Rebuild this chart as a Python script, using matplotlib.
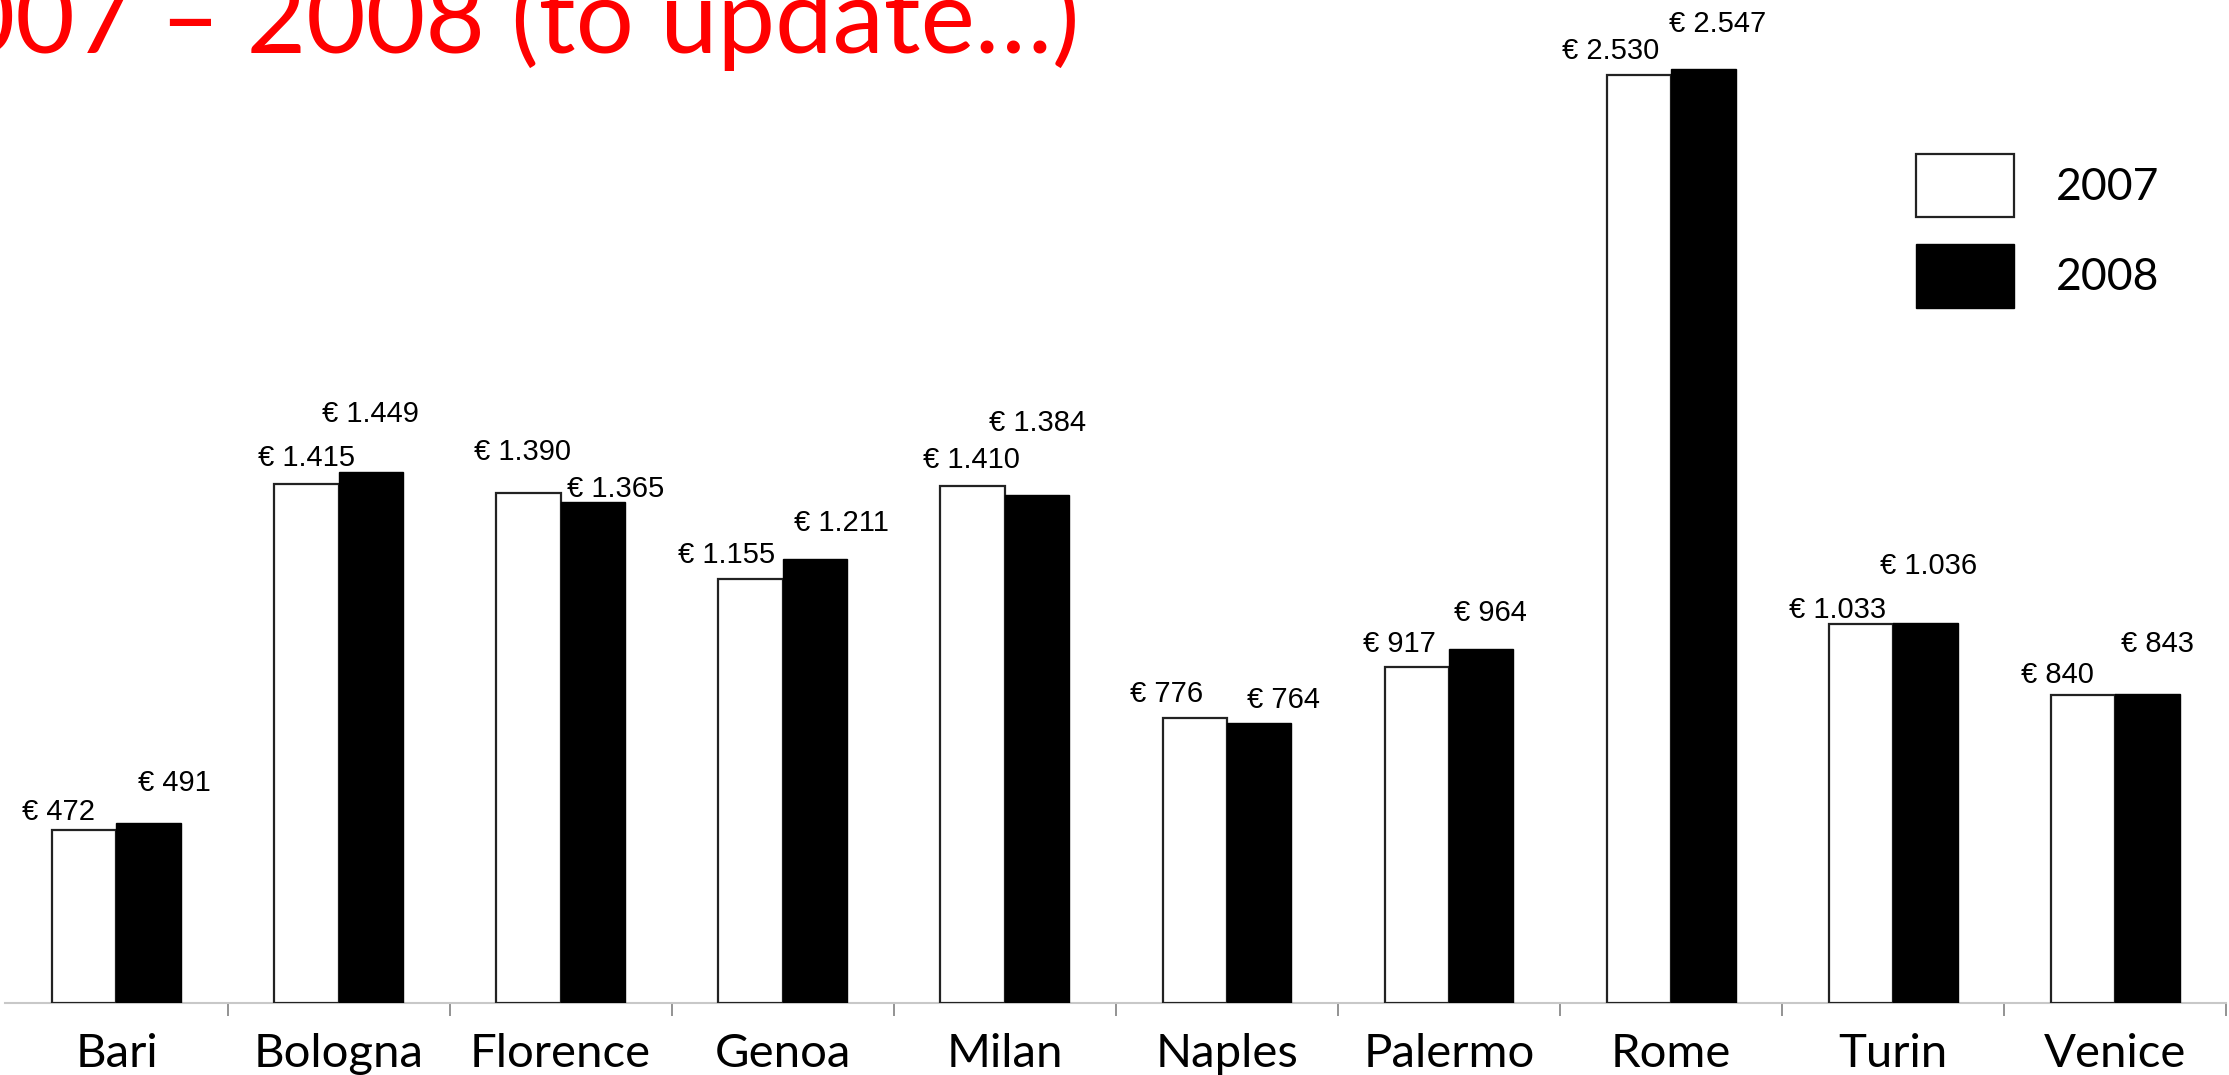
import matplotlib
matplotlib.use("Agg")
import matplotlib.pyplot as plt
import numpy as np

# --- data ---
cities = ["Bari", "Bologna", "Florence", "Genoa", "Milan",
          "Naples", "Palermo", "Rome", "Turin", "Venice"]
values_2007 = [472, 1415, 1390, 1155, 1410, 776, 917, 2530, 1033, 840]
values_2008 = [491, 1449, 1365, 1211, 1384, 764, 964, 2547, 1036, 843]
years = ["2007", "2008"]
title_text = "2007 \u2013 2008 (to update\u2026)"

# hand-placed label nudges (pixels from bar top centre), like the original slide
nudge_2007 = [(-26, 18), (0, 26), (-6, 41), (-24, 24), (-1, 26),
              (-28, 24), (-17, 23), (-28, 24), (-23, 14), (-26, 20)]
nudge_2008 = [(26, 40), (0, 58), (23, 13), (26, 36), (1, 72),
              (24, 23), (9, 36), (14, 45), (3, 57), (10, 50)]

W, H, DPI = 2229, 1075, 100
fig = plt.figure(figsize=(W / DPI, H / DPI), dpi=DPI)
ax = fig.add_axes([5.4 / W, 72 / H, 2221 / W, 1 - 72 / H])

x = np.arange(len(cities))
bw = 0.29
ax.bar(x - bw / 2, values_2007, bw, color="white", edgecolor="#222222",
       linewidth=1.6, label=years[0], zorder=3)
ax.bar(x + bw / 2, values_2008, bw, color="black", edgecolor="black",
       linewidth=1.0, label=years[1], zorder=3)

ax.set_xlim(-0.5, len(cities) - 0.5)
ax.set_ylim(0, 2735)

# value labels
def euro(v):
    return "\u20ac " + f"{v:,}".replace(",", ".")

for i in range(len(cities)):
    for vals, off, sign in ((values_2007, nudge_2007, -1), (values_2008, nudge_2008, 1)):
        ax.annotate(euro(vals[i]), (x[i] + sign * bw / 2, vals[i]),
                    xytext=off[i], textcoords="offset pixels",
                    ha="center", va="center", fontsize=21,
                    family="Liberation Sans", color="black", zorder=4)

# axes styling: only a light baseline with ticks between categories
for s in ["top", "right", "left"]:
    ax.spines[s].set_visible(False)
ax.spines["bottom"].set_color("#c8c8c8")
ax.spines["bottom"].set_linewidth(1.5)
ax.set_yticks([])
ax.set_xticks(np.arange(len(cities)) + 0.5)
ax.set_xticklabels([])
ax.tick_params(axis="x", length=9, width=1.2, color="#808080")

for i, c in enumerate(cities):
    ax.text(x[i], -0.03, c, transform=ax.get_xaxis_transform(),
            ha="center", va="top", fontsize=34, family="Lato")

# legend
ax.legend(loc="upper left", bbox_to_anchor=(1916 / W, 1 - 154 / H),
          bbox_transform=fig.transFigure, frameon=False,
          prop={"family": "Lato", "size": 32},
          handlelength=2.2, handleheight=1.82, labelspacing=0.6,
          handletextpad=0.95, borderpad=0, borderaxespad=0)

# cropped slide title
fig.text(1080 / W, 1 - 53 / H, title_text, ha="right", va="baseline",
         fontsize=74, family="Lato", color="#ff0000")

fig.savefig("out.png", dpi=DPI)
